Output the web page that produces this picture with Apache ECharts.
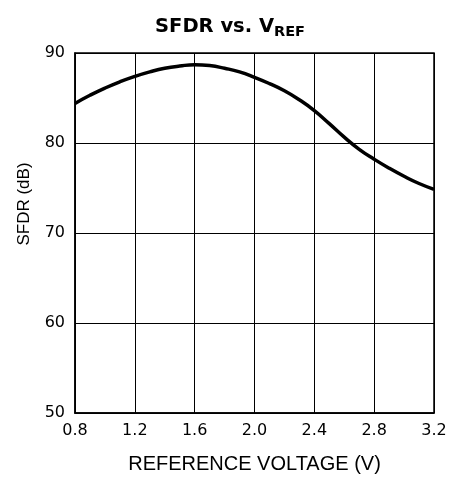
<!DOCTYPE html>
<html><head><meta charset="utf-8">
<script src="https://cdn.jsdelivr.net/npm/echarts@6/dist/echarts.min.js"></script>
<style>html,body{margin:0;padding:0;background:#fff}#c{width:458px;height:479px}</style>
</head><body><div id="c"></div>
<script>
const vref = [0.8, 0.9, 1.0, 1.1, 1.2, 1.3, 1.4, 1.5, 1.6, 1.7, 1.8, 1.9, 2.0,
              2.1, 2.2, 2.3, 2.4, 2.5, 2.6, 2.7, 2.8, 2.9, 3.0, 3.1, 3.2];
const sfdr = [84.4, 85.3, 86.1, 86.8, 87.4, 87.9, 88.3, 88.55, 88.7, 88.6, 88.3, 87.9, 87.3,
              86.6, 85.8, 84.8, 83.6, 82.15, 80.65, 79.3, 78.2, 77.2, 76.3, 75.5, 74.85];
const xTicks = [0.8, 1.2, 1.6, 2.0, 2.4, 2.8, 3.2];
const yTicks = [50, 60, 70, 80, 90];

const font = 'DejaVu Sans, sans-serif';
const font2 = 'Liberation Sans, Arial, sans-serif';
const chart = echarts.init(document.getElementById('c'));
chart.setOption({
  animation: false,
  title: {
    text: '{a|SFDR vs. V}{b|REF}',
    left: 225, top: 8, textAlign: 'center',
    textStyle: {
      rich: {
        a: {fontFamily: font, fontSize: 19.5, fontWeight: 'bold', color: '#000'},
        b: {fontFamily: font, fontSize: 14.5, fontWeight: 'bold', color: '#000', padding: [12, 0, 0, 0]}
      }
    }
  },
  grid: {left: 75, right: 24, top: 53, bottom: 66, show: true, borderColor: '#000', borderWidth: 1.5},
  xAxis: {
    type: 'value', min: 0.8, max: 3.2, interval: 0.4,
    name: 'REFERENCE VOLTAGE (V)', nameLocation: 'middle', nameGap: 41,
    nameTextStyle: {fontFamily: font2, fontSize: 20, color: '#000'},
    axisLine: {show: true, lineStyle: {color: '#000', width: 1.5}},
    axisTick: {show: false},
    axisLabel: {fontFamily: font, fontSize: 16, color: '#000', margin: 10,
      formatter: v => v.toFixed(1)},
    splitLine: {show: true, lineStyle: {color: '#000', width: 1}}
  },
  yAxis: {
    type: 'value', min: 50, max: 90, interval: 10,
    name: 'SFDR (dB)', nameLocation: 'middle', nameGap: 42, nameRotate: 90,
    nameTextStyle: {fontFamily: font2, fontSize: 17, color: '#000', padding: [0, 0, 0, 58]},
    axisLine: {show: true, lineStyle: {color: '#000', width: 1.5}},
    axisTick: {show: false},
    axisLabel: {fontFamily: font, fontSize: 16, color: '#000', margin: 10},
    splitLine: {show: true, lineStyle: {color: '#000', width: 1}}
  },
  series: [{
    type: 'line', smooth: 0.5, showSymbol: false,
    data: vref.map((x, i) => [x, sfdr[i]]),
    lineStyle: {color: '#000', width: 3.5}
  }]
});
</script></body></html>
